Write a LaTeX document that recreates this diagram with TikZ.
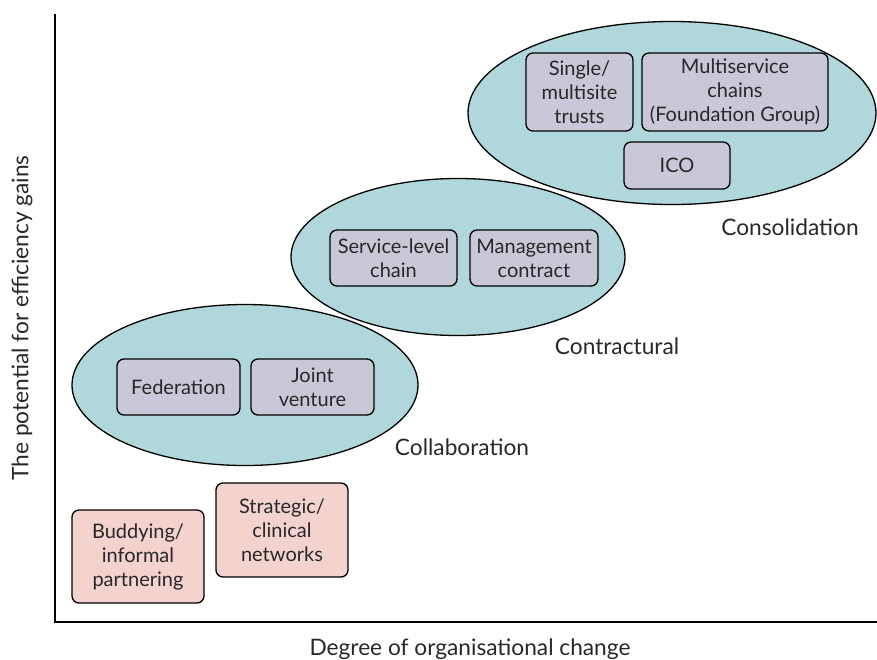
\documentclass[tikz,border=0pt]{standalone}
\usepackage{fontspec}
\setmainfont{Lato}
\usetikzlibrary{shapes.geometric}
\definecolor{teal}{RGB}{176,216,220}
\definecolor{lav}{RGB}{200,200,214}
\definecolor{pink}{RGB}{244,210,206}
\definecolor{txt}{RGB}{40,40,40}
\tikzset{
  grp/.style={ellipse, draw=black, line width=1.3pt, fill=teal, inner sep=0pt},
  box/.style={draw=black, line width=1.3pt, rounded corners=7pt, fill=lav, align=center, inner sep=0pt, text=txt, font=\fontsize{20}{24}\selectfont},
  pbox/.style={box, fill=pink},
  lbl/.style={font=\fontsize{22.7}{26}\selectfont, inner sep=0pt, text=txt},
}
\begin{document}
\begin{tikzpicture}[x=1pt,y=-1pt]
\useasboundingbox (0,0) rectangle (877,659);
% axes
\coordinate (ytop) at (55,14);
\coordinate (orig) at (55,622);
\coordinate (xend) at (877,622);
\draw[line width=1.3pt] (ytop) -- (orig) -- (xend);
\node[lbl, rotate=90] (ylab) at (22,318) {The potential for efficiency gains};
\node[lbl] (xlab) at (470,649) {Degree of organisational change};
% ellipses
\node[grp, minimum width=346pt, minimum height=161pt] (collab) at (245,385) {};
\node[grp, minimum width=334pt, minimum height=157pt] (contr) at (458,257) {};
\node[grp, minimum width=408pt, minimum height=183pt] (consol) at (672,113) {};
% labels
\node[lbl] (lconsol) at (790,227) {Consolidation};
\node[lbl] (lcontr) at (617,346) {Contractural};
\node[lbl] (lcollab) at (462,447) {Collaboration};
% boxes
\node[box, minimum width=107pt, minimum height=78pt] (single) at (579.5,92) {Single/\\multisite\\trusts};
\node[box, minimum width=186pt, minimum height=78pt] (multi) at (735,92) {Multiservice\\chains\\(Foundation Group)};
\node[box, minimum width=106pt, minimum height=47pt] (ico) at (677,165.5) {ICO};
\node[box, minimum width=127pt, minimum height=56pt] (svc) at (393.5,258) {Service-level\\chain};
\node[box, minimum width=128pt, minimum height=56pt] (mgmt) at (534,258) {Management\\contract};
\node[box, minimum width=123pt, minimum height=56pt] (fed) at (178.5,387) {Federation};
\node[box, minimum width=123pt, minimum height=56pt] (jv) at (312.5,387) {Joint\\venture};
\node[pbox, minimum width=132pt, minimum height=93pt] (bud) at (138,556.5) {Buddying/\\informal\\partnering};
\node[pbox, minimum width=132pt, minimum height=94pt] (strat) at (282,530) {Strategic/\\clinical\\networks};
\end{tikzpicture}
\end{document}
